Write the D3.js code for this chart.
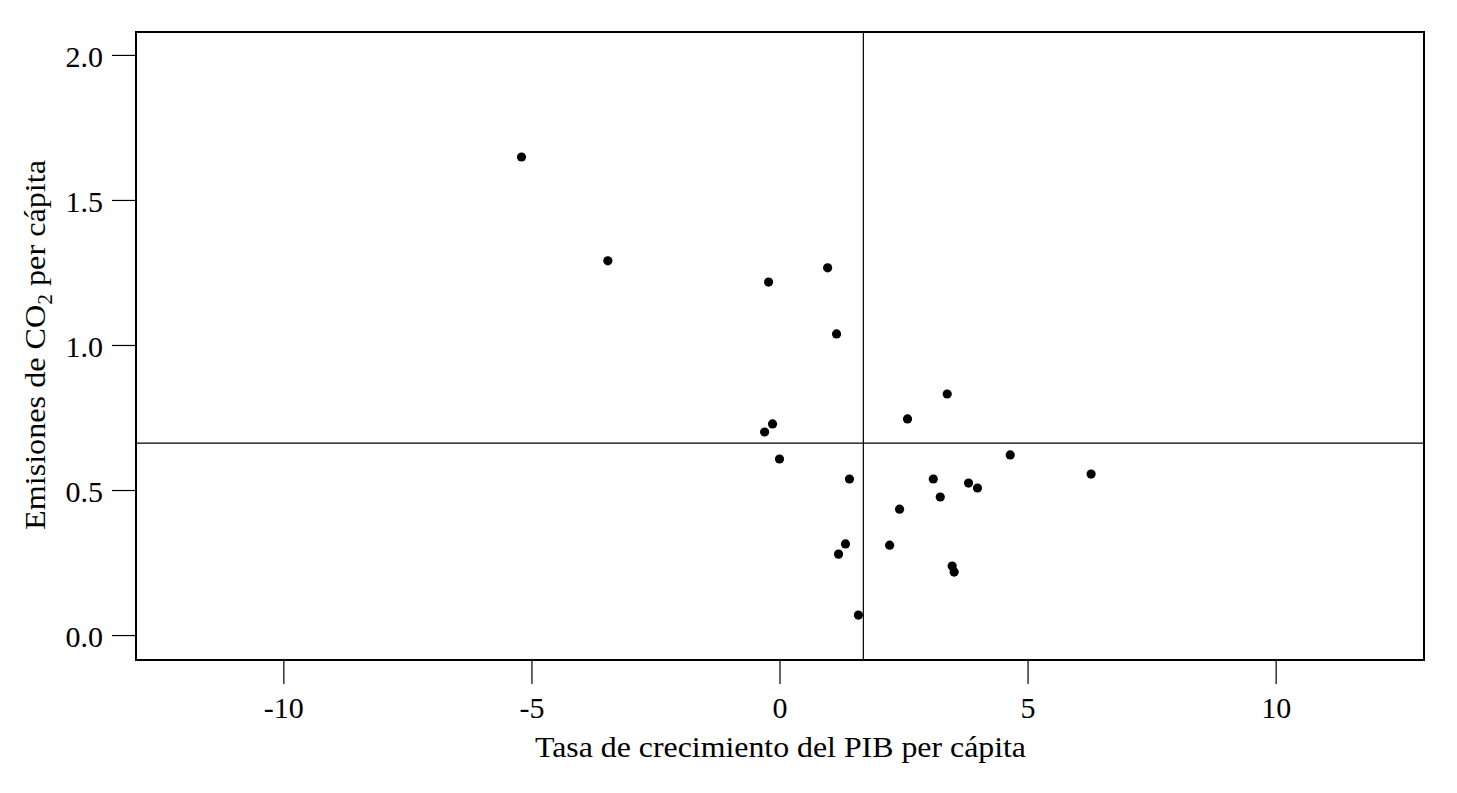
<!DOCTYPE html>
<html><head><meta charset="utf-8">
<script src="https://cdn.jsdelivr.net/npm/d3@7"></script>
<style>
html,body{margin:0;padding:0;background:#fff;}
svg text{font-family:"Liberation Serif","DejaVu Serif",serif;fill:#000;}
</style></head>
<body>
<svg id="chart" width="1457" height="793"></svg>
<script>
// GDP per capita growth rate (x) and CO2 emissions per capita (y)
const gdpGrowth = [-5.20,-3.46,-0.22,0.97,1.15,3.38,2.58,-0.14,-0.30,0.00,4.65,6.28,1.41,3.10,3.81,3.99,3.24,2.42,1.33,2.22,1.19,3.48,3.52,1.59];
const co2 = [1.648,1.290,1.217,1.266,1.038,0.831,0.745,0.728,0.700,0.607,0.621,0.555,0.538,0.538,0.524,0.507,0.476,0.434,0.314,0.310,0.279,0.238,0.217,0.069];
const xTicks = [-10,-5,0,5,10];
const yTicks = [0.0,0.5,1.0,1.5,2.0];
const refX = 1.69;   // vertical reference line
const refY = 0.662;  // horizontal reference line
const xLabel = "Tasa de crecimiento del PIB per cápita";

const svg = d3.select("#chart");
const L = 136, R = 1424, T = 32, B = 660;
const x = d3.scaleLinear().domain([-12.97, 12.99]).range([L, R]);
const y = d3.scaleLinear().domain([-0.086, 2.079]).range([B, T]);

// reference lines
svg.append("line").attr("x1", x(refX)).attr("x2", x(refX)).attr("y1", T).attr("y2", B)
  .attr("stroke","#000").attr("stroke-width",1.2);
svg.append("line").attr("x1", L).attr("x2", R).attr("y1", y(refY)).attr("y2", y(refY))
  .attr("stroke","#000").attr("stroke-width",1.2);

// points
svg.append("g").selectAll("circle").data(gdpGrowth.map((d,i)=>[d,co2[i]])).join("circle")
  .attr("cx", d=>x(d[0])).attr("cy", d=>y(d[1])).attr("r", 4.6).attr("fill","#000");

// box
svg.append("rect").attr("x", L).attr("y", T).attr("width", R-L).attr("height", B-T)
  .attr("fill","none").attr("stroke","#000").attr("stroke-width",2);

// axes
const xAxis = svg.append("g").attr("transform", `translate(0,${B+1})`)
  .call(d3.axisBottom(x).tickValues(xTicks).tickSize(23).tickPadding(13).tickFormat(d3.format("d")));
const yAxis = svg.append("g").attr("transform", `translate(${L-1},0)`)
  .call(d3.axisLeft(y).tickValues(yTicks).tickSize(23).tickPadding(9).tickFormat(d3.format(".1f")));
[xAxis, yAxis].forEach(a=>{
  a.select(".domain").remove();
  a.selectAll(".tick line").attr("stroke","#000").attr("stroke-width",1.2);
  a.selectAll(".tick text").attr("font-size", 30).attr("font-family",null);
});
yAxis.selectAll(".tick text").attr("dy","0.37em");
xAxis.selectAll(".tick text").text(d=>String(d).replace("−","-"));

// axis titles
svg.append("text").attr("x", 780.5).attr("y", 757).attr("text-anchor","middle")
  .attr("font-size", 30).attr("textLength", 491).attr("lengthAdjust","spacingAndGlyphs").text(xLabel);
const yt = svg.append("text").attr("transform", `translate(45,345) rotate(-90)`)
  .attr("text-anchor","middle").attr("font-size", 30)
  .attr("textLength", 370).attr("lengthAdjust","spacingAndGlyphs");
yt.append("tspan").text("Emisiones de CO");
yt.append("tspan").attr("font-size", 20).attr("dy", 7).text("2");
yt.append("tspan").attr("dy", -7).text(" per cápita");
</script>
</body></html>
